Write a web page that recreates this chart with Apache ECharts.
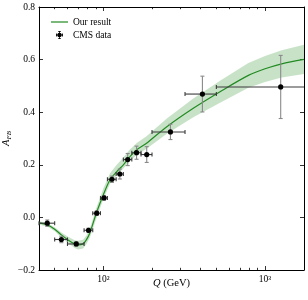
<!DOCTYPE html>
<html><head><meta charset="utf-8">
<script src="https://cdn.jsdelivr.net/npm/echarts@6/dist/echarts.min.js"></script>
<style>html,body{margin:0;padding:0;background:#fff}#c{width:308px;height:300px}</style>
</head><body><div id="c"></div>
<script>
// Theory curve ("Our result")
const curveQ = [40, 45.1, 50, 55, 60.5, 66.5, 69.8, 74.9, 78.5, 82.4, 86.4, 90.5, 100, 110, 121, 133, 146, 161, 185, 247, 360, 527, 789, 1000, 1268, 1742];
const curveA = [-0.021, -0.0285, -0.045, -0.0665, -0.0855, -0.1007, -0.1045, -0.1007, -0.0855, -0.060, -0.022, 0.016, 0.086, 0.143, 0.174, 0.200, 0.231, 0.257, 0.282, 0.345, 0.415, 0.478, 0.540, 0.565, 0.584, 0.601];
const bandLo = [-0.027, -0.035, -0.053, -0.076, -0.097, -0.116, -0.122, -0.118, -0.102, -0.077, -0.040, -0.004, 0.070, 0.128, 0.160, 0.186, 0.214, 0.238, 0.261, 0.318, 0.381, 0.436, 0.493, 0.515, 0.532, 0.545];
const bandHi = [-0.015, -0.022, -0.037, -0.057, -0.074, -0.087, -0.089, -0.085, -0.070, -0.043, -0.004, 0.036, 0.110, 0.168, 0.200, 0.228, 0.258, 0.283, 0.309, 0.376, 0.452, 0.520, 0.587, 0.614, 0.636, 0.656];

// CMS data
const cmsQ   = [45, 55, 68, 81, 91, 101, 113, 126.5, 141.5, 160.5, 185.5, 260, 410, 1250];
const cmsQlo = [40, 50, 60, 76, 86, 96, 106, 120, 133, 150, 171, 200, 320, 500];
const cmsQhi = [50, 60, 76, 86, 96, 106, 120, 133, 150, 171, 200, 320, 500, 2000];
const cmsA   = [-0.022, -0.084, -0.101, -0.049, 0.016, 0.074, 0.145, 0.165, 0.220, 0.246, 0.239, 0.325, 0.469, 0.496];
const cmsErr = [0.012, 0.012, 0.008, 0.008, 0.008, 0.008, 0.012, 0.019, 0.023, 0.025, 0.030, 0.029, 0.068, 0.120];

// Axis ticks
const xMajor = [100, 1000];
const xMajorLabels = {2: '10²', 3: '10³'};
const xMinor = [50, 60, 70, 80, 90, 200, 300, 400, 500, 600, 700, 800, 900];
const yMin = -0.2, yMax = 0.8, yStep = 0.2;
const xMin = 40, xMax = 1742;

const FONT = 'Liberation Serif';
const chart = echarts.init(document.getElementById('c'), null, {renderer: 'canvas'});

function xAxisDef(pos, ticks, len, showLine, showLabel) {
  return {
    type: 'log', logBase: 10, min: xMin, max: xMax, position: pos, gridIndex: 0,
    splitLine: {show: false},
    axisLine: {show: showLine, onZero: false, lineStyle: {color: '#000', width: 1}},
    axisTick: {show: true, inside: true, length: len, customValues: ticks, lineStyle: {color: '#000', width: 0.8}},
    axisLabel: showLabel ? {
      show: true, customValues: xMajor, margin: 4, color: '#000', fontFamily: FONT, fontSize: 9.5,
      formatter: v => {
        const e = v > 10 ? Math.round(Math.log10(v)) : Math.round(v);
        return xMajorLabels[e] || '';
      }
    } : {show: false}
  };
}
function yAxisDef(pos, showLabel) {
  return {
    type: 'value', min: yMin, max: yMax, interval: yStep, position: pos, gridIndex: 0,
    splitLine: {show: false},
    axisLine: {show: true, onZero: false, lineStyle: {color: '#000', width: 1}},
    axisTick: {show: true, inside: true, length: 4, lineStyle: {color: '#000', width: 0.8}},
    axisLabel: showLabel ? {
      show: true, margin: 4, color: '#000', fontFamily: FONT, fontSize: 9.5,
      formatter: v => (v < -1e-9 ? '\u2212' : '') + Math.abs(v).toFixed(1)
    } : {show: false}
  };
}

const xAxes = [
  xAxisDef('bottom', xMajor, 4, true, true),
  xAxisDef('bottom', xMinor, 2.2, false, false),
  xAxisDef('top', xMajor, 4, true, false),
  xAxisDef('top', xMinor, 2.2, false, false)
];
xAxes[0].name = '{q|Q} (GeV)';
xAxes[0].nameLocation = 'middle';
xAxes[0].nameGap = 8;
xAxes[0].nameMoveOverlap = false;
xAxes[0].nameTextStyle = {color: '#000', fontFamily: FONT, fontSize: 10.5,
  rich: {q: {fontStyle: 'italic', fontFamily: FONT, fontSize: 10.5, color: '#000'}}};

const yAxes = [yAxisDef('left', true), yAxisDef('right', false)];
yAxes[0].name = '{a|A}{s|FB}';
yAxes[0].nameLocation = 'middle';
yAxes[0].nameGap = 26;
yAxes[0].nameRotate = 90;
yAxes[0].nameMoveOverlap = false;
yAxes[0].nameTextStyle = {color: '#000', fontFamily: FONT, rich: {
  a: {fontStyle: 'italic', fontFamily: FONT, fontSize: 10.5, lineHeight: 14, color: '#000'},
  s: {fontStyle: 'italic', fontFamily: FONT, fontSize: 7, lineHeight: 7, verticalAlign: 'bottom', color: '#000'}
}};

const lineIcon = 'path://M0,0 M17,10 M0,4.4 L17,4.4 L17,5.6 L0,5.6 Z';
const errIcon = 'path://M0,0 M17,10 ' +
  'M5.2,4.55 L11.8,4.55 L11.8,5.45 L5.2,5.45 Z ' +
  'M5.0,3.4 L5.8,3.4 L5.8,6.6 L5.0,6.6 Z M11.2,3.4 L12.0,3.4 L12.0,6.6 L11.2,6.6 Z ' +
  'M8.1,1.2 L8.9,1.2 L8.9,8.8 L8.1,8.8 Z ' +
  'M7.1,1.0 L9.9,1.0 L9.9,1.8 L7.1,1.8 Z M7.1,8.2 L9.9,8.2 L9.9,9.0 L7.1,9.0 Z ' +
  'M6.3,5 A2.2,2.2 0 1,1 10.7,5 A2.2,2.2 0 1,1 6.3,5 Z';

const option = {
  animation: false,
  backgroundColor: '#fff',
  grid: {left: 39, right: 4, top: 7, bottom: 30, containLabel: false, outerBoundsMode: 'none'},
  xAxis: xAxes,
  yAxis: yAxes,
  legend: {
    orient: 'vertical', left: 46, top: 12, itemWidth: 17, itemHeight: 10, itemGap: 3,
    textStyle: {fontFamily: FONT, fontSize: 9.5, color: '#000'},
    data: [{name: 'Our result', icon: lineIcon}, {name: 'CMS data', icon: errIcon}]
  },
  series: [
    {
      type: 'custom', name: 'band', silent: true, z: 1,
      xAxisIndex: 0, yAxisIndex: 0,
      data: curveQ.map((q, i) => [q, bandLo[i], bandHi[i]]),
      encode: {x: 0, y: [1, 2]},
      renderItem: function (params, api) {
        if (params.dataIndex !== 0) return {type: 'group', children: []};
        const pts = [];
        for (let i = 0; i < curveQ.length; i++) pts.push(api.coord([curveQ[i], bandHi[i]]));
        for (let i = curveQ.length - 1; i >= 0; i--) pts.push(api.coord([curveQ[i], bandLo[i]]));
        return {type: 'polygon', shape: {points: pts}, style: {fill: 'rgba(34,139,34,0.25)'}};
      }
    },
    {
      type: 'line', name: 'Our result', z: 3, xAxisIndex: 0, yAxisIndex: 0,
      data: curveQ.map((q, i) => [q, curveA[i]]),
      symbol: 'none', showSymbol: false, smooth: 0.3,
      lineStyle: {color: '#228b22', width: 1.2},
      itemStyle: {color: '#228b22'}
    },
    {
      type: 'custom', name: 'CMS data', z: 5, xAxisIndex: 0, yAxisIndex: 0,
      itemStyle: {color: '#000'},
      data: cmsQ.map((q, i) => [q, cmsA[i], cmsQlo[i], cmsQhi[i], cmsErr[i]]),
      encode: {x: 0, y: 1},
      renderItem: function (params, api) {
        const q = api.value(0), a = api.value(1), ql = api.value(2), qh = api.value(3), e = api.value(4);
        const c = api.coord([q, a]);
        const l = api.coord([ql, a]);
        const r = api.coord([qh, a]);
        const t = api.coord([q, a + e]);
        const b = api.coord([q, a - e]);
        const cs = params.coordSys;
        const xr = cs.x + cs.width;
        const lx = Math.max(l[0], cs.x), rx = Math.min(r[0], xr);
        const hs = {stroke: '#3a3a3a', lineWidth: 1.1};
        const vs = {stroke: '#8a8a8a', lineWidth: 1.1};
        const cap = 2;
        const ch = [
          {type: 'line', shape: {x1: lx, y1: c[1], x2: rx, y2: c[1]}, style: hs},
          {type: 'line', shape: {x1: c[0], y1: t[1], x2: c[0], y2: b[1]}, style: vs},
          {type: 'line', shape: {x1: c[0] - cap, y1: t[1], x2: c[0] + cap, y2: t[1]}, style: vs},
          {type: 'line', shape: {x1: c[0] - cap, y1: b[1], x2: c[0] + cap, y2: b[1]}, style: vs}
        ];
        if (l[0] >= cs.x - 0.5) ch.push({type: 'line', shape: {x1: l[0], y1: c[1] - cap, x2: l[0], y2: c[1] + cap}, style: hs});
        if (r[0] <= xr + 0.5) ch.push({type: 'line', shape: {x1: r[0], y1: c[1] - cap, x2: r[0], y2: c[1] + cap}, style: hs});
        ch.push({type: 'circle', shape: {cx: c[0], cy: c[1], r: 2.6}, style: {fill: '#000'}});
        return {type: 'group', children: ch};
      }
    }
  ]
};
chart.setOption(option);
</script>
</body></html>
